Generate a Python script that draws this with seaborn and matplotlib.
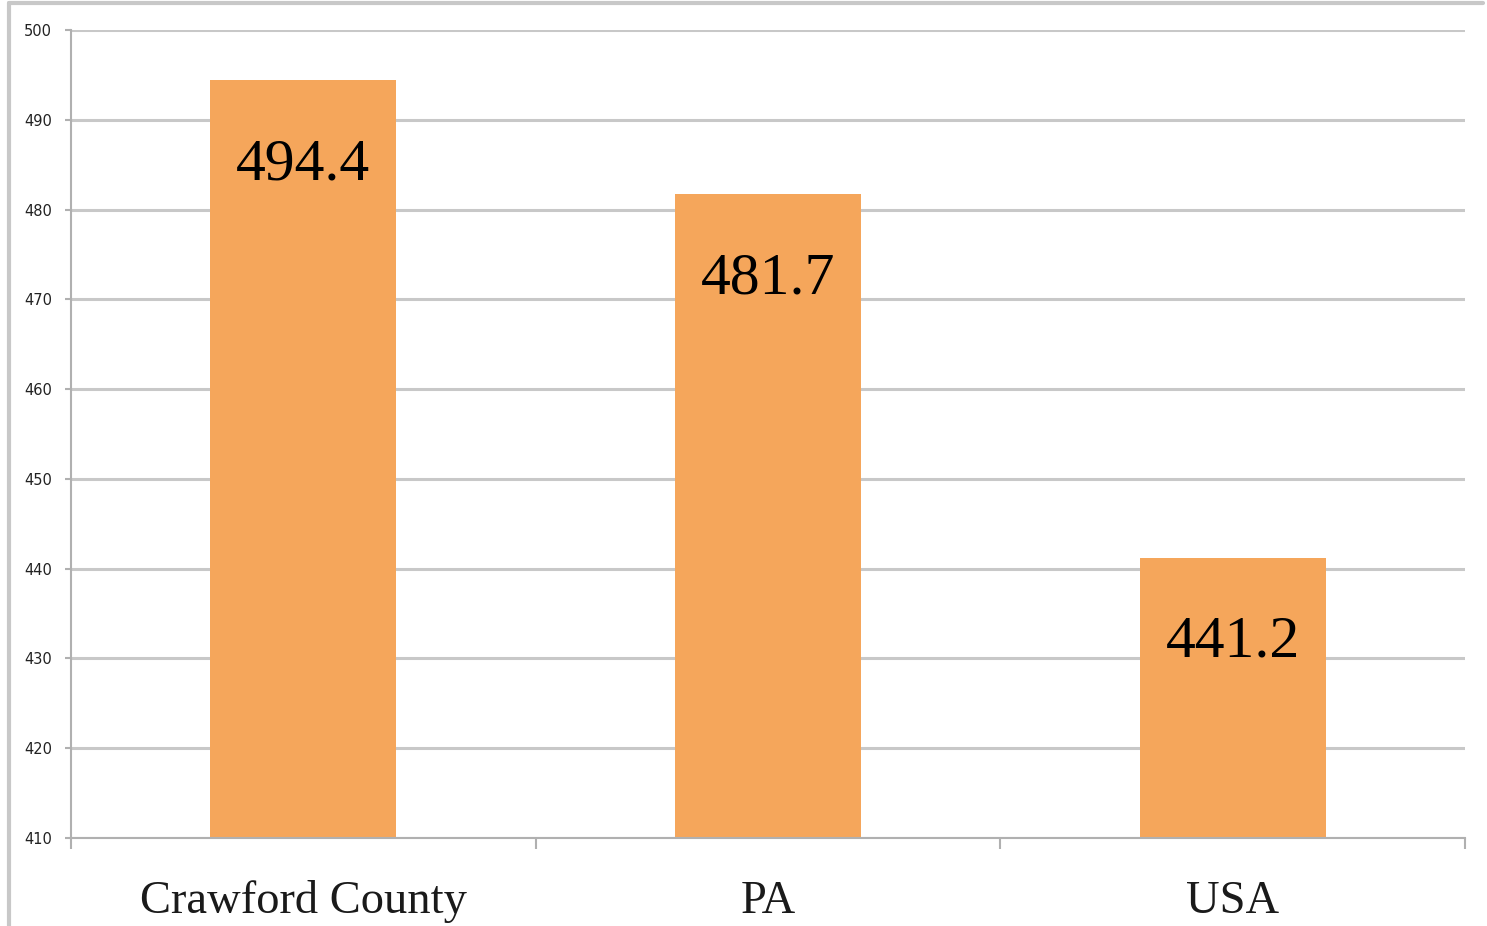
import numpy as np
import pandas as pd
import seaborn as sns
import matplotlib.pyplot as plt
from matplotlib.lines import Line2D

# data
regions = ["Crawford County", "PA", "USA"]
values = [494.4, 481.7, 441.2]
y_ticks = list(range(410, 501, 10))

df = pd.DataFrame({"region": regions, "value": values})

sns.set_theme(style="white")
plt.rcParams['font.family'] = ['DejaVu Sans']

bar_color = '#F5A65B'
grid_color = '#c8c8c8'

fig = plt.figure(figsize=(14.87, 9.26), dpi=100, facecolor='white')
ax = fig.add_axes([0.0477, 0.095, 0.9375, 0.8726])

sns.barplot(data=df, x="region", y="value", color=bar_color, width=0.40,
            saturation=1, linewidth=0, ax=ax, zorder=3)

ax.set_ylim(410, 500)
ax.set_xlim(-0.5, len(regions) - 0.5)
ax.set_yticks(y_ticks)
ax.set_yticklabels([str(t) for t in y_ticks], fontsize=10.5, color='#222222')
ax.yaxis.grid(True, color=grid_color, linewidth=2.2, zorder=0)
ax.set_axisbelow(True)

# category labels as serif text, x ticks at category boundaries
ax.set_xticks(np.arange(len(regions) + 1) - 0.5)
ax.set_xticklabels([])
ax.tick_params(axis='x', bottom=True, direction='out', length=8, width=1.5, color='#b0b0b0')
ax.tick_params(axis='y', left=True, direction='out', length=4.5, width=1.5, color='#b0b0b0', pad=9)
for i, name in enumerate(regions):
    ax.annotate(name, xy=(i, 410), xytext=(0, -46), textcoords='offset points',
                ha='center', va='center', fontsize=33.5, family='Liberation Serif',
                color='#1a1a1a')

# value labels inside bars
for i, v in enumerate(values):
    ax.annotate(f"{v}", xy=(i, v), xytext=(0, -61), textcoords='offset points',
                ha='center', va='center', fontsize=43, family='Liberation Serif',
                color='black', zorder=5)

ax.set_xlabel("")
ax.set_ylabel("")
for side in ['top', 'right']:
    ax.spines[side].set_visible(False)
for side in ['left', 'bottom']:
    ax.spines[side].set_color('#b0b0b0')
    ax.spines[side].set_linewidth(1.5)
    ax.spines[side].set_zorder(4)

# outer frame lines (left and top)
fig.add_artist(Line2D([9 / 1487, 9 / 1487], [0, 1 - 3 / 926], color='#c8c8c8', linewidth=3,
                      transform=fig.transFigure))
fig.add_artist(Line2D([9 / 1487, 1483 / 1487], [1 - 3 / 926, 1 - 3 / 926], color='#c8c8c8',
                      linewidth=3, transform=fig.transFigure))

plt.savefig("out.png", dpi=100, facecolor='white')
